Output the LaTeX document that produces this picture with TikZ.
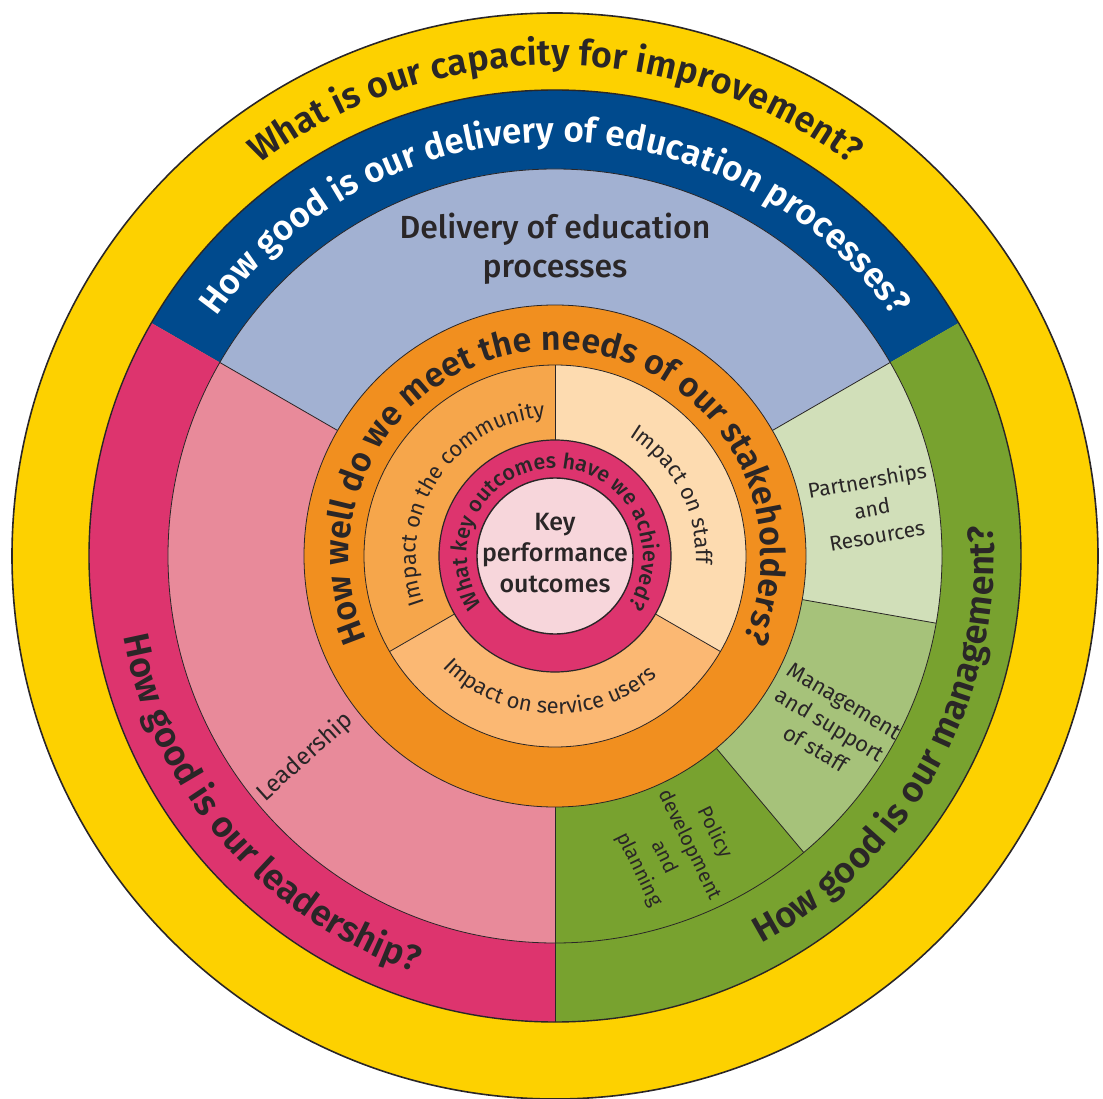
\documentclass[tikz,border=0pt]{standalone}
\usepackage{fontspec}
\setmainfont{Fira Sans}
\newfontfamily\medfont{Fira Sans Medium}
\newfontfamily\semifont{Fira Sans SemiBold}
\usetikzlibrary{decorations.text}

\definecolor{ink}{HTML}{2A2627}
\definecolor{capyellow}{HTML}{FDD100}
\definecolor{procblue}{HTML}{004A8D}
\definecolor{procpale}{HTML}{A2B1D2}
\definecolor{leadred}{HTML}{DD346E}
\definecolor{leadpink}{HTML}{E88A9A}
\definecolor{mgmtgreen}{HTML}{78A22F}
\definecolor{partgreen}{HTML}{D1DFB9}
\definecolor{staffgreen}{HTML}{A6C27A}
\definecolor{needorange}{HTML}{F18F1F}
\definecolor{commorange}{HTML}{F6A64B}
\definecolor{staffpeach}{HTML}{FDDBB0}
\definecolor{userorange}{HTML}{FBB873}
\definecolor{kpored}{HTML}{DD346E}
\definecolor{kpopink}{HTML}{F7D6DB}

% filled pie slice: colour, radius, start angle, end angle
\newcommand\ringsector[4]{\fill[#1] (0,0) -- (#3:#2) arc[start angle=#3, end angle=#4, radius=#2] -- cycle;}
% lettering along a clockwise arc (tops outward): radius, centre angle, half span, text
\newcommand\textcw[4]{\path[decorate,decoration={text along path,text align=center,text={#4}}]
  ({#2+#3}:#1) arc[start angle={#2+#3}, end angle={#2-#3}, radius=#1];}
% lettering along a counter-clockwise arc (tops inward)
\newcommand\textccw[4]{\path[decorate,decoration={text along path,text align=center,text={#4}}]
  ({#2-#3}:#1) arc[start angle={#2-#3}, end angle={#2+#3}, radius=#1];}

% type styles
\newcommand\bigq{\semifont\fontsize{36}{36}\selectfont\color{ink}}
\newcommand\blueq{\semifont\fontsize{35}{35}\selectfont\color{white}}
\newcommand\needq{\semifont\fontsize{34}{34}\selectfont\color{ink}}
\newcommand\impactf{\fontsize{22}{22}\selectfont\color{ink}}
\newcommand\kpoq{\medfont\fontsize{21.5}{21.5}\selectfont\color{ink}}

\tikzset{
  rim/.style={draw=ink, line width=1.6pt},
  edge/.style={draw=ink, line width=0.8pt},
  label/.style={text=ink, align=center, inner sep=0pt},
}

\begin{document}
\begin{tikzpicture}[x=1pt, y=1pt]
\useasboundingbox (-555,-542) rectangle (548,556);

% outer capacity ring
\fill[capyellow] (0,0) circle[radius=543];
\draw[rim] (0,0) circle[radius=543];

% question band
\ringsector{procblue}{466}{30}{150}
\ringsector{leadred}{466}{150}{270}
\ringsector{mgmtgreen}{466}{270}{390}
\draw[rim, line width=1.4pt] (0,0) circle[radius=466];

% quality areas
\ringsector{procpale}{387}{30}{150}
\ringsector{leadpink}{387}{150}{270}
\ringsector{partgreen}{387}{-10}{30}
\ringsector{staffgreen}{387}{-50}{-10}
\ringsector{mgmtgreen}{387}{-90}{-50}
\draw[edge] (0,0) circle[radius=387];
\foreach \a in {30,150,-10,-50} \draw[edge] (\a:251) -- (\a:387);
\draw[edge, line width=1pt] (270:251) -- (270:466);

% stakeholder ring
\fill[needorange] (0,0) circle[radius=251];
\draw[edge] (0,0) circle[radius=251];

% impact areas
\ringsector{staffpeach}{191}{-30}{90}
\ringsector{commorange}{191}{90}{210}
\ringsector{userorange}{191}{210}{330}
\draw[edge] (0,0) circle[radius=191];
\foreach \a in {90,210,330} \draw[edge] (\a:116) -- (\a:191);

% key outcomes
\fill[kpored] (0,0) circle[radius=116];
\draw[edge, line width=1.2pt] (0,0) circle[radius=116];
\fill[kpopink] (0,0) circle[radius=78];
\draw[edge, line width=1.4pt] (0,0) circle[radius=78];

% curved questions
\textcw{491}{90}{120}{|\bigq|What is our capacity for improvement?}
\textcw{414}{90}{120}{|\blueq|How good is our delivery of education processes?}
\textccw{439}{221}{100}{|\bigq|How good is our leadership?}
\textccw{439}{-29}{100}{|\bigq|How good is our management?}
\textcw{206}{90}{165}{|\needq|How well do we meet the needs of our stakeholders?}
\textcw{139}{147}{100}{|\impactf|Impact on the community}
\textcw{141}{27.5}{100}{|\impactf|Impact on staff}
\textccw{158}{267.5}{100}{|\impactf|Impact on service users}
\textcw{88}{90}{170}{|\kpoq|What key outcomes have we achieved?}

% area labels
\node[label, font=\medfont\fontsize{32}{39}\selectfont] (delivery) at (0,307) {Delivery of education\\processes};
\node[label, font=\medfont\fontsize{25}{31}\selectfont] (kpo) at (0,3) {Key\\performance\\outcomes};
\node[label, font=\fontsize{24}{28}\selectfont, rotate=42] (leadership) at (-250,-201) {Leadership};
\node[label, font=\fontsize{21}{28}\selectfont, rotate=10] (partners) at (317,48) {Partnerships\\and\\Resources};
\node[label, font=\fontsize{22}{28}\selectfont, rotate=-31] (management) at (275,-169) {Management\\and support\\of staff};
\node[label, font=\fontsize{20}{28}\selectfont, rotate=-64] (policy) at (122,-295) {Policy\\development\\and\\planning};
\end{tikzpicture}
\end{document}
